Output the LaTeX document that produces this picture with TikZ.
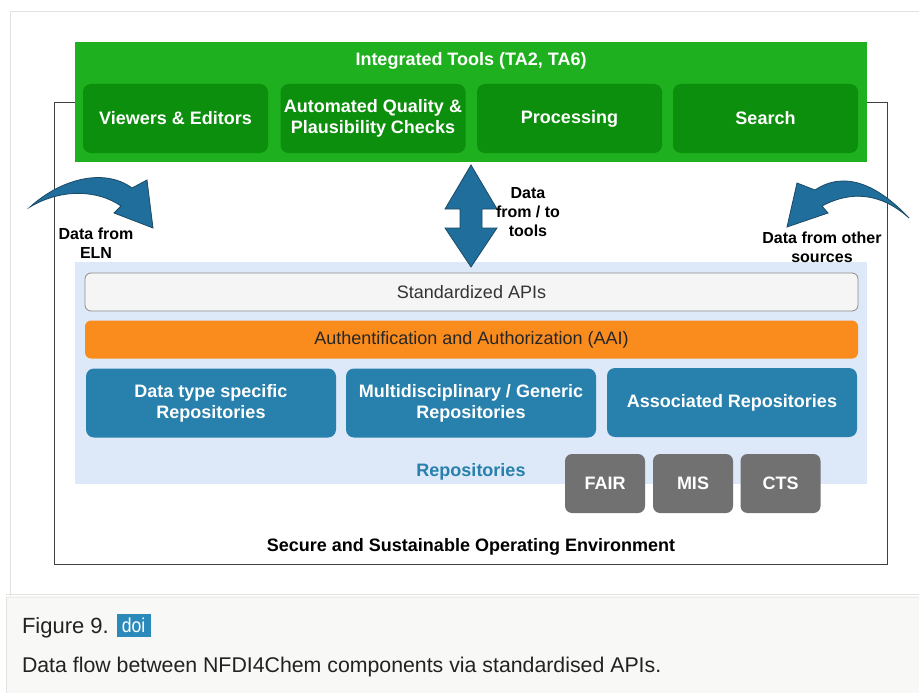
\documentclass[tikz,border=0pt]{standalone}
\usepackage{fontspec}
\setmainfont{Liberation Sans}
\definecolor{outgreen}{HTML}{1EB01E}
\definecolor{ingreen}{HTML}{0C8F0C}
\definecolor{repoblue}{HTML}{2880AC}
\definecolor{panelblue}{HTML}{DDE8F8}
\definecolor{aaiorange}{HTML}{FA8C1E}
\definecolor{boxgray}{HTML}{717171}
\definecolor{arrowblue}{HTML}{1F6E9B}
\definecolor{arrowedge}{HTML}{1B4A66}
\definecolor{capbg}{HTML}{F8F8F6}
\definecolor{framegray}{HTML}{E2E2DE}
\definecolor{doiblue}{HTML}{2C8ABA}
\definecolor{captext}{HTML}{222222}
\tikzset{
  plain/.style={inner sep=0pt, outer sep=0pt},
  toolbox/.style={plain, fill=ingreen, rounded corners=8pt, minimum width=185pt, minimum height=69pt, text=white, font=\fontsize{18}{21}\selectfont\bfseries, align=center},
  repobox/.style={plain, fill=repoblue, rounded corners=8pt, minimum width=250pt, minimum height=69pt, text=white, font=\fontsize{18}{21}\selectfont\bfseries, align=center},
  graybox/.style={plain, fill=boxgray, rounded corners=7pt, minimum width=80pt, minimum height=59pt, text=white, font=\fontsize{18}{21}\selectfont\bfseries},
  barbox/.style={plain, rounded corners=6pt, minimum width=773pt, minimum height=38pt, font=\fontsize{18}{21}\selectfont},
  lbl/.style={plain, align=center, font=\fontsize{16}{19}\selectfont\bfseries},
  fatarrow/.style={fill=arrowblue, draw=arrowedge, line width=0.8pt, line join=miter},
}
\begin{document}
\begin{tikzpicture}[x=1pt,y=-1pt]
\useasboundingbox (0,0) rectangle (919,693);
\fill[white] (0,0) rectangle (919,693);
% page frame
\draw[framegray, line width=1pt] (10,596) -- (10,12) -- (925,12);
% caption area
\fill[capbg] (6,596) rectangle (925,700);
\draw[framegray, line width=1pt] (6,594.5) -- (925,594.5);
\draw[framegray!70, line width=1pt] (6,597) -- (925,597);
\draw[framegray, line width=1pt] (6,597) -- (6,700);

% outer environment frame
\node[plain, draw=black!75, line width=1pt, minimum width=833pt, minimum height=462pt] (env) at (470.5,333.5) {};
\node[plain, font=\fontsize{18}{21}\selectfont\bfseries] (envlbl) at (471,546.5) {Secure and Sustainable Operating Environment};

% integrated tools
\node[plain, fill=outgreen, minimum width=792pt, minimum height=120pt] (tools) at (471,102) {};
\node[plain, text=white, font=\fontsize{18}{21}\selectfont\bfseries] (toolslbl) at (471,61) {Integrated Tools (TA2, TA6)};
\node[toolbox] (viewers) at (175.5,118.5) {Viewers \& Editors};
\node[toolbox] (quality) at (373,118.5) {Automated Quality \&\\Plausibility Checks};
\node[toolbox] (processing) at (569.5,118.5) {Processing};
\node[toolbox] (search) at (765.5,118.5) {Search};

% repositories panel
\node[plain, fill=panelblue, minimum width=792pt, minimum height=222pt] (panel) at (471,373) {};
\node[barbox, fill=black!4, draw=black!45, line width=0.8pt, text=black!80] (apis) at (471.5,292) {Standardized APIs};
\node[barbox, fill=aaiorange, text=black!85] (aai) at (471.5,339.5) {Authentification and Authorization (AAI)};
\node[repobox] (datatype) at (211,403) {Data type specific\\Repositories};
\node[repobox] (multi) at (471,403) {Multidisciplinary / Generic\\Repositories};
\node[repobox] (assoc) at (732,402.5) {Associated Repositories};
\node[plain, text=repoblue, font=\fontsize{18}{21}\selectfont\bfseries] (repolbl) at (471,472) {Repositories};
\node[graybox] (fair) at (605,483.5) {FAIR};
\node[graybox] (mis) at (693,483.5) {MIS};
\node[graybox] (cts) at (780.5,483.5) {CTS};

% double arrow tools <-> repositories
\coordinate (dtop) at (471,165);
\coordinate (dbot) at (471,267);
\draw[fatarrow] (dtop) -- (497,209) -- (482,209) -- (482,228) -- (497,228) -- (dbot)
  -- (445,228) -- (460,228) -- (460,209) -- (445,209) -- cycle;
\node[lbl] (dlbl) at (528,212) {Data\\from / to\\tools};

% left curved arrow (data from ELN)
\coordinate (ltail) at (30,207);
\coordinate (ltip) at (153,228);
\draw[fatarrow] (ltail) .. controls (62,178) and (105,168) .. (132,188)
  -- (147,180) -- (ltip) -- (114,213) -- (121,206)
  .. controls (98,190) and (62,188) .. (ltail) -- cycle;
\node[lbl] (elnlbl) at (96,243) {Data from\\ELN};

% right curved arrow (data from other sources)
\coordinate (rtail) at (909,218);
\coordinate (rtip) at (787,227);
\draw[fatarrow] (rtail) .. controls (878,185) and (845,170) .. (815,190)
  -- (797,183) -- (rtip) -- (828,213) -- (822,206)
  .. controls (850,191) and (880,192) .. (rtail) -- cycle;
\node[lbl] (otherlbl) at (822,247) {Data from other\\sources};

% caption
\node[plain, anchor=base west, text=captext, font=\fontsize{22}{24}\selectfont] (fig) at (22,633) {Figure 9.};
\node[plain, fill=doiblue, text=white, minimum width=34pt, minimum height=23pt, font=\fontsize{20}{22}\selectfont] (doi) at (133.5,625) {\scalebox{0.88}[1]{doi}};
\node[plain, anchor=base west, text=captext, font=\fontsize{21.3}{24}\selectfont] (captxt) at (22,672) {Data flow between NFDI4Chem components via standardised APIs.};
\end{tikzpicture}
\end{document}
